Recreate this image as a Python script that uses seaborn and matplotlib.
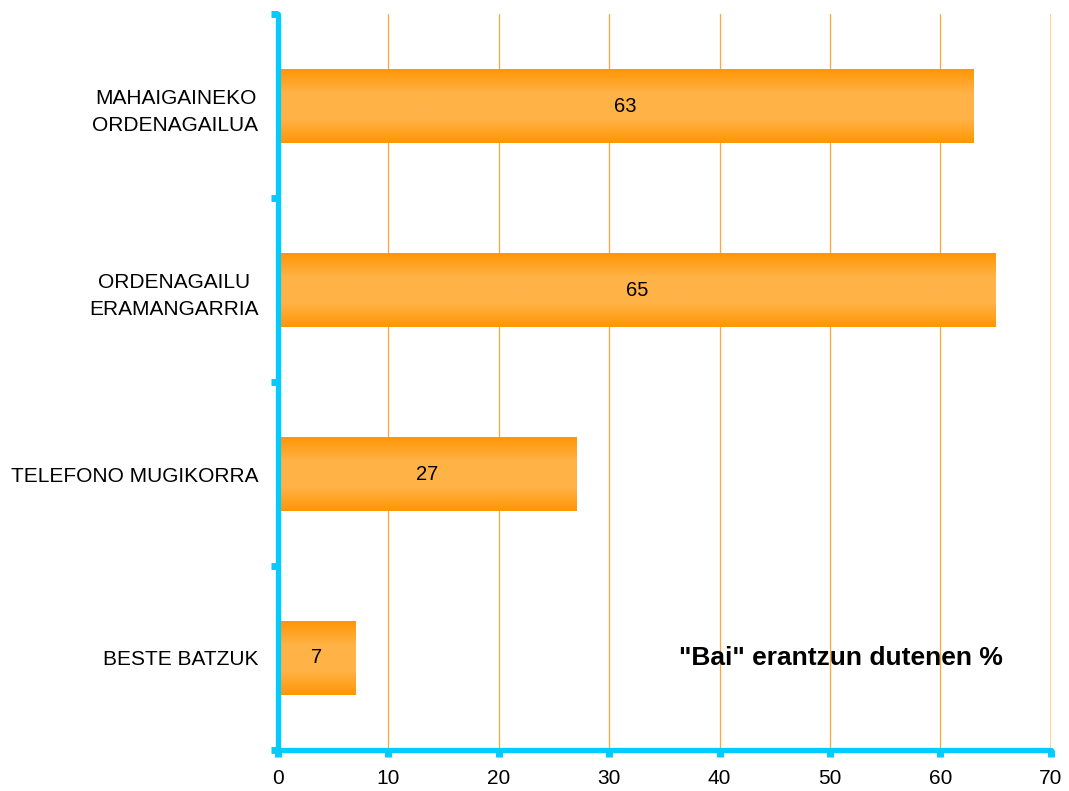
import matplotlib
matplotlib.use("Agg")
import matplotlib.pyplot as plt
import seaborn as sns
import numpy as np
import pandas as pd
from matplotlib.colors import LinearSegmentedColormap

categories = ["MAHAIGAINEKO\nORDENAGAILUA", "ORDENAGAILU\nERAMANGARRIA", "TELEFONO MUGIKORRA", "BESTE BATZUK"]
values = [63, 65, 27, 7]
xticks = [0, 10, 20, 30, 40, 50, 60, 70]
annotation = '"Bai" erantzun dutenen %'

sns.set_theme(style="white")
plt.rcParams['font.family'] = ['Liberation Sans', 'DejaVu Sans']

df = pd.DataFrame({"cat": categories, "val": values})

fig = plt.figure(figsize=(10.69, 7.91), dpi=100)
ax = fig.add_axes([0.26, 0.052, 0.723, 0.930])

sns.barplot(data=df, x="val", y="cat", orient="h", color="#FF9900", width=0.4, ax=ax, zorder=3)

cmap = LinearSegmentedColormap.from_list("bar", ["#FF9605", "#FFB347", "#FFB347", "#FF9605"])
grad = np.linspace(0, 1, 256).reshape(-1, 1)
for p in ax.patches:
    x0, y0 = p.get_x(), p.get_y()
    w, h = p.get_width(), p.get_height()
    ax.imshow(grad, cmap=cmap, aspect="auto", extent=(x0, x0 + w, y0 + h, y0), zorder=4, interpolation="bilinear")
    p.set_visible(False)

for i, v in enumerate(values):
    ax.text(v / 2, i, str(v), ha="center", va="center", fontsize=14.5, color="black", zorder=5)

ax.text(51, 3.0, annotation, ha="center", va="center", fontsize=19, fontweight="bold", color="black", zorder=5)

ax.set_xlim(0, 70)
ax.set_ylim(3.5, -0.5)
ax.set_xticks(xticks)
ax.set_xticklabels([str(t) for t in xticks], fontsize=15)
ax.set_yticks(range(len(categories)))
ax.set_yticklabels(categories, fontsize=15, linespacing=1.55)
ax.set_xlabel("")
ax.set_ylabel("")

for t in xticks[1:-1]:
    ax.axvline(t, color="#FFA733", lw=0.9, zorder=1)
ax.axvline(xticks[-1], color="#FFC880", lw=1.2, zorder=1)

cyan = "#00CCFF"
for s in ["top", "right"]:
    ax.spines[s].set_visible(False)
for s in ["left", "bottom"]:
    ax.spines[s].set_color(cyan)
    ax.spines[s].set_linewidth(3.8)
    ax.spines[s].set_capstyle("round")
    ax.spines[s].set_zorder(6)

ax.set_yticks([-0.5, 0.5, 1.5, 2.5, 3.5], minor=True)
ax.tick_params(axis="y", which="major", left=True, length=0, pad=14, colors="black")
ax.tick_params(axis="y", which="minor", left=True, length=5, width=5, color=cyan, direction="out")
ax.tick_params(axis="x", which="major", bottom=True, length=5, width=5, color=cyan, direction="out", pad=9, labelcolor="black")
for lbl in ax.get_yticklabels():
    lbl.set_multialignment("center")

fig.savefig("out.png", dpi=100)
